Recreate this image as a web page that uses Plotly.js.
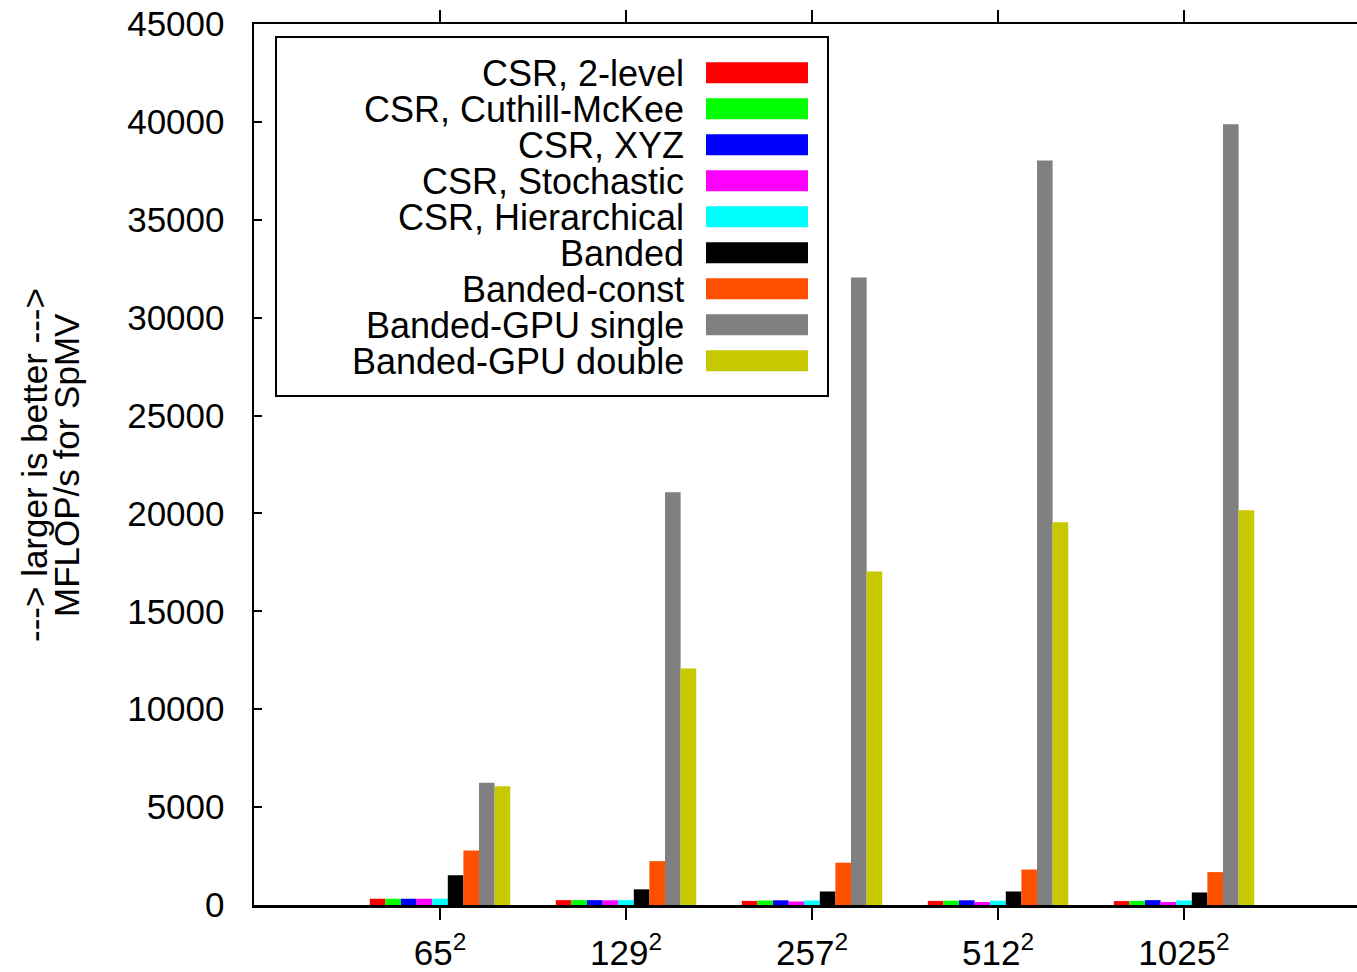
<!DOCTYPE html>
<html>
<head>
<meta charset="utf-8">
<script src="https://cdn.plot.ly/plotly-3.0.1.min.js"></script>
<style>
  html, body { margin: 0; padding: 0; overflow: hidden; background: #fff; }
  #chart { width: 1380px; height: 972px; }
</style>
</head>
<body>
<div id="chart"></div>
<script>
// ---- data ----
const categories = ['65<sup>2</sup>', '129<sup>2</sup>', '257<sup>2</sup>', '512<sup>2</sup>', '1025<sup>2</sup>'];
const seriesNames = ['CSR, 2-level', 'CSR, Cuthill-McKee', 'CSR, XYZ', 'CSR, Stochastic',
  'CSR, Hierarchical', 'Banded', 'Banded-const', 'Banded-GPU single', 'Banded-GPU double'];
const csr2level      = [320, 250, 210, 210, 200];
const csrCuthill     = [320, 250, 230, 220, 210];
const csrXYZ         = [320, 250, 240, 240, 250];
const csrStochastic  = [320, 240, 180, 150, 150];
const csrHierarchical= [320, 250, 230, 220, 230];
const banded         = [1520, 800, 690, 690, 640];
const bandedConst    = [2790, 2240, 2160, 1810, 1680];
const gpuSingle      = [6250, 21080, 32050, 38030, 39880];
const gpuDouble      = [6060, 12080, 17040, 19550, 20160];
const seriesValues = [csr2level, csrCuthill, csrXYZ, csrStochastic, csrHierarchical,
  banded, bandedConst, gpuSingle, gpuDouble];
const colors = ['#ff0000', '#00ff00', '#0000ff', '#ff00ff', '#00ffff',
  '#000000', '#ff5000', '#808080', '#c8c800'];
const yTitleLines = ['---> larger is better --->', 'MFLOP/s for SpMV'];

// ---- geometry ----
const W = 1380, H = 972;
const M = {l: 254, r: 10, t: 24, b: 67};
const plotW = W - M.l - M.r, plotH = H - M.t - M.b;
const px = x => (x - M.l) / plotW;
const py = y => (H - M.b - y) / plotH;
const FONT = 'Liberation Sans, Arial, Helvetica, sans-serif';

const traces = seriesNames.map((name, i) => ({
  type: 'bar',
  name: name,
  x: categories,
  y: seriesValues[i],
  marker: {color: colors[i], line: {width: 0}},
  hoverinfo: 'x+y+name'
}));

// custom legend (text right-aligned, swatch on the right, as in the reference)
const shapes = [{
  type: 'rect', xref: 'paper', yref: 'paper',
  x0: px(276), x1: px(828), y0: py(396), y1: py(37),
  line: {color: '#000', width: 2}, fillcolor: 'rgba(0,0,0,0)'
}];
const annotations = [];
seriesNames.forEach((name, i) => {
  const cy = 72.8 + 36 * i;
  shapes.push({
    type: 'rect', xref: 'paper', yref: 'paper',
    x0: px(706), x1: px(808), y0: py(cy + 10.5), y1: py(cy - 10.5),
    line: {width: 0}, fillcolor: colors[i]
  });
  annotations.push({
    xref: 'paper', yref: 'paper', x: px(686), y: py(cy + 1),
    xanchor: 'right', yanchor: 'middle', showarrow: false,
    text: name, font: {family: FONT, size: 36, color: '#000'}
  });
});
// y-axis title, two rotated lines
[34, 66].forEach((cx, i) => {
  annotations.push({
    xref: 'paper', yref: 'paper', x: px(cx), y: py(465),
    xanchor: 'center', yanchor: 'middle', showarrow: false, textangle: -90,
    text: yTitleLines[i], font: {family: FONT, size: 35, color: '#000'}
  });
});

const layout = {
  width: W, height: H,
  margin: M,
  paper_bgcolor: '#fff', plot_bgcolor: '#fff',
  font: {family: FONT, size: 35, color: '#000'},
  barmode: 'group',
  bargap: 0.245,
  bargroupgap: 0,
  showlegend: false,
  xaxis: {
    type: 'category',
    range: [-1, 5],
    showgrid: false, zeroline: false,
    showline: true, linecolor: '#000', linewidth: 2.5,
    mirror: 'ticks',
    ticks: 'outside', ticklen: 12, tickwidth: 2.5, tickcolor: '#000',
    tickfont: {family: FONT, size: 35, color: '#000'},
    ticklabelstandoff: 3
  },
  yaxis: {
    range: [0, 45000],
    dtick: 5000, tick0: 0,
    tickformat: 'd',
    showgrid: false, zeroline: false,
    showline: true, linecolor: '#000', linewidth: 2.5,
    ticks: 'inside', ticklen: 8, tickwidth: 2, tickcolor: '#000',
    tickfont: {family: FONT, size: 35, color: '#000'},
    ticklabelstandoff: 20
  },
  shapes: shapes,
  annotations: annotations
};

Plotly.newPlot('chart', traces, layout, {displayModeBar: false, staticPlot: true});
</script>
</body>
</html>
